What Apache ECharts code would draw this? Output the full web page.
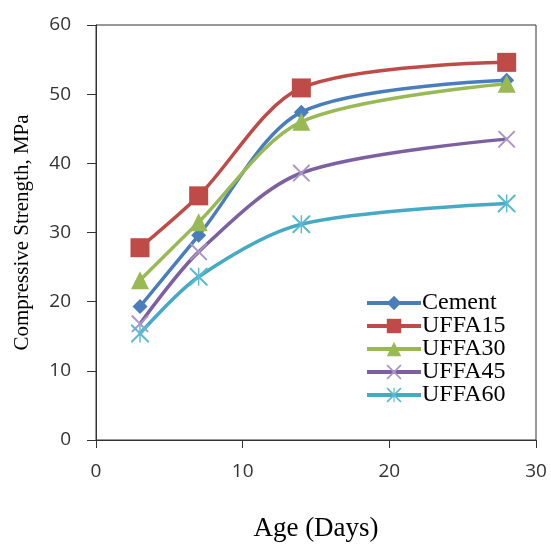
<!DOCTYPE html>
<html>
<head>
<meta charset="utf-8">
<script src="https://cdn.jsdelivr.net/npm/echarts@6/dist/echarts.min.js"></script>
<style>
html, body { margin: 0; padding: 0; background: #fff; }
#chart { width: 551px; height: 545px; }
</style>
</head>
<body>
<div id="chart"></div>
<script>
// age in days
var ages = [3, 7, 14, 28];
var seriesNames = ['Cement', 'UFFA15', 'UFFA30', 'UFFA45', 'UFFA60'];
var cement = [19.3, 29.6, 47.4, 52.0];
var uffa15 = [27.8, 35.3, 50.9, 54.6];
var uffa30 = [23.1, 31.5, 46.0, 51.5];
var uffa45 = [16.8, 27.2, 38.6, 43.5];
var uffa60 = [15.4, 23.6, 31.2, 34.2];
var xTicks = [0, 10, 20, 30];
var yTicks = [0, 10, 20, 30, 40, 50, 60];

// marker shapes (x and asterisk)
var crossPath = 'path://M0,0 L0.8,0 L5,4.2 L9.2,0 L10,0 L10,0.8 L5.8,5 L10,9.2 L10,10 L9.2,10 L5,5.8 L0.8,10 L0,10 L0,9.2 L4.2,5 L0,0.8 Z';
var starPath = crossPath + ' M4.6,0 L5.4,0 L5.4,10 L4.6,10 Z';

function pairs(vals) {
	var out = [];
	for (var i = 0; i < ages.length; i++) {
		out.push([ages[i], vals[i]]);
	}
	return out;
}

function mkSeries(name, vals, lineColor, markColor, symbol, size) {
	return {
		name : name,
		type : 'line',
		smooth : 0.3,
		data : pairs(vals),
		symbol : symbol,
		symbolSize : size,
		showAllSymbol : true,
		lineStyle : { color : lineColor, width : 3.5 },
		itemStyle : { color : markColor, borderWidth : 0 },
		z : 3
	};
}

var serif = '"Liberation Serif", "DejaVu Serif", serif';
var sans = '"Open Sans", "Liberation Sans", sans-serif';

var options = {
	animation : false,
	backgroundColor : '#fff',
	grid : {
		left : 96, right : 15, top : 25, bottom : 105,
		outerBoundsMode : 'none',
		show : true, borderColor : '#333', borderWidth : 1
	},
	legend : {
		orient : 'vertical',
		left : 360, top : 286,
		itemWidth : 54, itemHeight : 18, itemGap : -1,
		data : seriesNames,
		lineStyle : { width : 4 },
		textStyle : { fontFamily : serif, fontSize : 24, color : '#000', padding : [0, 0, 0, -4] }
	},
	xAxis : {
		type : 'value',
		min : 0, max : 30, interval : 10,
		name : 'Age (Days)',
		nameLocation : 'middle',
		nameGap : 75,
		nameTextStyle : { fontFamily : serif, fontSize : 27, color : '#000' },
		axisLine : { show : true, lineStyle : { color : '#333', width : 1 } },
		axisTick : { show : true, length : 8, lineStyle : { color : '#333' } },
		axisLabel : { margin : 22, fontFamily : sans, fontSize : 19, color : '#333',
			formatter : function(v) { return xTicks.indexOf(v) >= 0 ? String(v) : ''; } },
		splitLine : { show : false }
	},
	yAxis : {
		type : 'value',
		min : 0, max : 60, interval : 10,
		name : 'Compressive Strength, MPa',
		nameLocation : 'middle',
		nameGap : 63,
		nameTextStyle : { fontFamily : serif, fontSize : 21, color : '#000' },
		axisLine : { show : true, lineStyle : { color : '#333', width : 1 } },
		axisTick : { show : true, length : 9, lineStyle : { color : '#333' } },
		axisLabel : { margin : 25, fontFamily : sans, fontSize : 19, color : '#333',
			formatter : function(v) { return yTicks.indexOf(v) >= 0 ? String(v) : ''; } },
		splitLine : { show : false }
	},
	series : [
		mkSeries('Cement', cement, '#4A7EBB', '#4A7EBB', 'diamond', 15),
		mkSeries('UFFA15', uffa15, '#BE4B48', '#BE4B48', 'rect', 19),
		mkSeries('UFFA30', uffa30, '#98B954', '#98B954', 'triangle', 18),
		mkSeries('UFFA45', uffa45, '#7D60A0', '#A995C7', crossPath, 17),
		mkSeries('UFFA60', uffa60, '#46AAC5', '#5BBAD3', starPath, 18)
	]
};

var myChart = echarts.init(document.getElementById('chart'));
myChart.setOption(options);
</script>
</body>
</html>
